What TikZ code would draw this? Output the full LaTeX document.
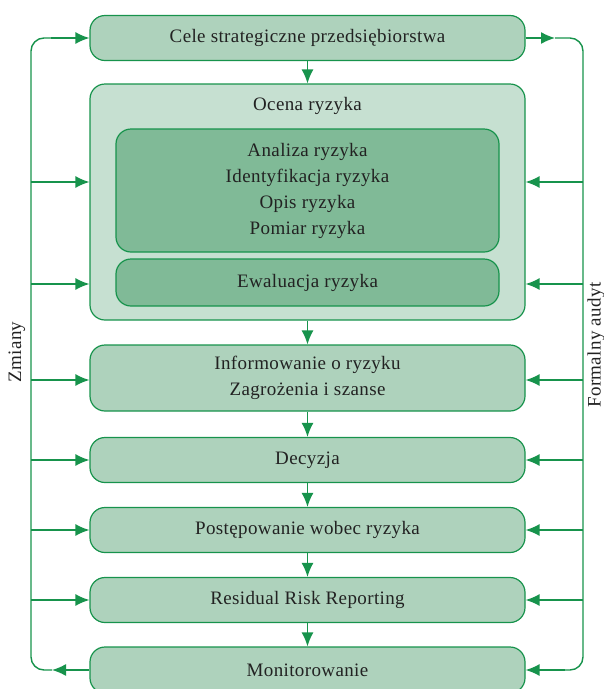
\documentclass[tikz,border=0pt]{standalone}
\usepackage{fontspec}
\setmainfont[LetterSpace=2]{Liberation Serif}
\usetikzlibrary{arrows.meta}
\definecolor{lgreen}{HTML}{17934C}
\definecolor{boxfill}{HTML}{AED2BC}
\definecolor{outerfill}{HTML}{C6E0D1}
\definecolor{innerfill}{HTML}{80BA97}
\definecolor{txt}{HTML}{222222}
\tikzset{
  box/.style={draw=lgreen, line width=1.2pt, rounded corners=15pt, fill=boxfill,
    minimum width=435pt, text=txt, align=center, inner sep=0pt,
    font=\fontsize{19}{26}\selectfont},
  inbox/.style={box, fill=innerfill, minimum width=383pt},
  conn/.style={draw=lgreen, line width=1.4pt},
  arr/.style={conn, -{Latex[length=14pt,width=12pt]}},
  sidelbl/.style={text=txt, rotate=90, font=\fontsize{19}{22}\selectfont}
}
\begin{document}
\begin{tikzpicture}[x=1pt,y=-1pt]
\useasboundingbox (0,0) rectangle (604,689);
\node[box, minimum height=45pt] (cele) at (307.5,38) {Cele strategiczne przedsiębiorstwa};
\node[box, fill=outerfill, minimum height=236pt] (ocena) at (307.5,202) {};
\node[text=txt, font=\fontsize{19}{26}\selectfont] (ocenat) at (307.5,106) {Ocena ryzyka};
\node[inbox, minimum height=123pt] (anal) at (307.5,190.5) {Analiza ryzyka\\Identyfikacja ryzyka\\Opis ryzyka\\Pomiar ryzyka};
\node[inbox, minimum height=47pt] (ewal) at (307.5,282.5) {Ewaluacja ryzyka};
\node[box, minimum height=66pt] (info) at (307.5,378) {Informowanie o ryzyku\\Zagrożenia i szanse};
\node[box, minimum height=45pt] (dec) at (307.5,460) {Decyzja};
\node[box, minimum height=45pt] (post) at (307.5,530) {Postępowanie wobec ryzyka};
\node[box, minimum height=45pt] (resid) at (307.5,600) {Residual Risk Reporting};
\node[box, minimum height=46pt] (mon) at (307.5,670) {Monitorowanie};

% vertical flow
\draw[arr] (cele) -- (ocena);
\draw[arr] (ocena) -- (info);
\draw[arr] (info) -- (dec);
\draw[arr] (dec) -- (post);
\draw[arr] (post) -- (resid);
\draw[arr] (resid) -- (mon);

% left trunk (Zmiany)
\coordinate (LT) at (31,38);
\coordinate (LB) at (31,670);
\coordinate (LBtip) at (52,670);
\draw[conn, rounded corners=13pt] (LBtip) -- (LB) -- (LT) -- (60,38);
\draw[arr] (mon.west) -- (LBtip);
\draw[arr] (LT) ++(20,0) -- (cele.west);
\foreach \i/\y/\t in {1/182/ocena,2/284/ocena,3/380/info,4/460/dec,5/530/post,6/600/resid}{
  \coordinate (l\i) at (31,\y);
  \draw[arr] (l\i) -- (l\i -| \t.west);
}
\node[sidelbl] (zm) at (17,352) {Zmiany};

% right trunk (Formalny audyt)
\coordinate (RT) at (583,38);
\coordinate (RB) at (583,670);
\coordinate (RTtip) at (555,38);
\draw[arr] (cele.east) -- (RTtip);
\draw[conn, rounded corners=13pt] (RTtip) -- (RT) -- (RB) -- (560,670);
\draw[arr] (565,670) -- (mon.east);
\foreach \i/\y/\t in {1/182/ocena,2/284/ocena,3/380/info,4/460/dec,5/530/post,6/600/resid}{
  \coordinate (r\i) at (583,\y);
  \draw[arr] (r\i) -- (r\i -| \t.east);
}
\node[sidelbl] (fa) at (596,345) {Formalny audyt};
\end{tikzpicture}
\end{document}
